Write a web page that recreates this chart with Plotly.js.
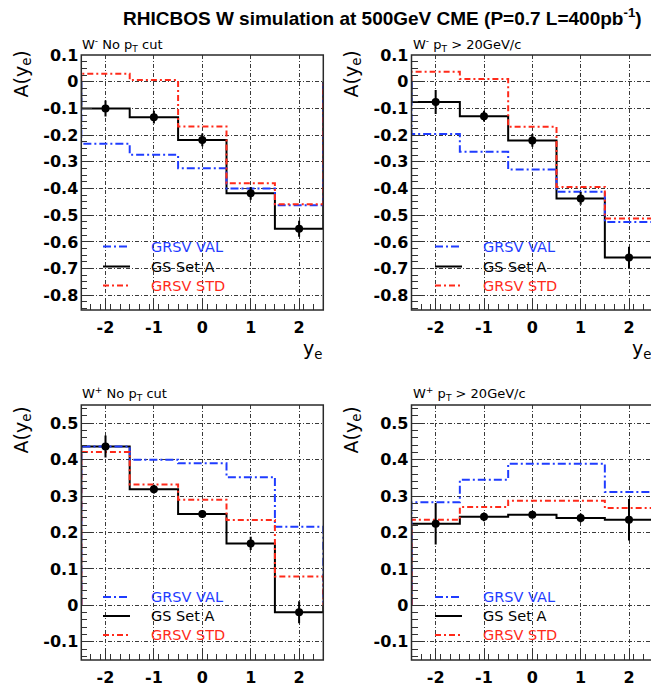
<!DOCTYPE html>
<html>
<head>
<meta charset="utf-8">
<script src="https://cdn.plot.ly/plotly-3.0.1.min.js"></script>
<style>
  html, body { margin: 0; padding: 0; background: #fff; }
  #chart { width: 651px; height: 687px; }
</style>
</head>
<body>
<div id="chart"></div>
<script>
// Electron rapidity bins
const binCenters = [-2, -1, 0, 1, 2];
const binEdges = [-2.5, -1.5, -0.5, 0.5, 1.5, 2.5];

// W- , no pT cut
const wmNoCutGS  = [-0.100, -0.133, -0.218, -0.418, -0.551];
const wmNoCutErr = [0.030, 0.024, 0.024, 0.024, 0.030];
const wmNoCutVAL = [-0.232, -0.274, -0.324, -0.400, -0.463];
const wmNoCutSTD = [0.030, 0.006, -0.168, -0.380, -0.459];

// W- , pT > 20 GeV/c
const wmPtGS  = [-0.076, -0.129, -0.220, -0.437, -0.658];
const wmPtErr = [0.045, 0.020, 0.024, 0.024, 0.040];
const wmPtVAL = [-0.196, -0.262, -0.329, -0.412, -0.525];
const wmPtSTD = [0.037, 0.010, -0.169, -0.394, -0.512];

// W+ , no pT cut
const wpNoCutGS  = [0.436, 0.319, 0.251, 0.170, -0.019];
const wpNoCutErr = [0.030, 0.012, 0.010, 0.018, 0.030];
const wpNoCutVAL = [0.436, 0.400, 0.390, 0.352, 0.216];
const wpNoCutSTD = [0.421, 0.332, 0.290, 0.234, 0.079];

// W+ , pT > 20 GeV/c
const wpPtGS  = [0.224, 0.243, 0.249, 0.240, 0.235];
const wpPtErr = [0.057, 0.012, 0.010, 0.012, 0.057];
const wpPtVAL = [0.283, 0.345, 0.389, 0.389, 0.311];
const wpPtSTD = [0.235, 0.270, 0.287, 0.287, 0.267];

// Tick labels
const xTickVals = [-2, -1, 0, 1, 2];
const xTickText = ['-2', '-1', '0', '1', '2'];
const yTickValsWm = [0.1, 0, -0.1, -0.2, -0.3, -0.4, -0.5, -0.6, -0.7, -0.8];
const yTickTextWm = ['0.1', '0', '-0.1', '-0.2', '-0.3', '-0.4', '-0.5', '-0.6', '-0.7', '-0.8'];
const yTickValsWp = [-0.1, 0, 0.1, 0.2, 0.3, 0.4, 0.5];
const yTickTextWp = ['-0.1', '0', '0.1', '0.2', '0.3', '0.4', '0.5'];

// Series names and panel captions
const seriesNames = ['GRSV VAL', 'GS Set A', 'GRSV STD'];
const panelTitles = [
  'W<sup>-</sup> No p<sub>T</sub> cut',
  'W<sup>-</sup> p<sub>T</sub> &gt; 20GeV/c',
  'W<sup>+</sup> No p<sub>T</sub> cut',
  'W<sup>+</sup> p<sub>T</sub> &gt; 20GeV/c'
];
const mainTitle = 'RHICBOS W simulation at 500GeV CME (P=0.7 L=400pb<sup>-1</sup>)';
const yTitle = 'A(y<sub>e</sub>)';
const xTitle = 'y<sub>e</sub>';

const W = 651, H = 687;
const px = v => v / W;
const py = v => 1 - v / H;

const BLUE = '#1f3cff';
const RED = '#ff2a1a';
const BLACK = '#000000';
const seriesColors = [BLUE, BLACK, RED];
const seriesDash = ['8px,3px,2px,3px', 'solid', '6px,3px,2px,3px'];

// Histogram outline, dropping to zero at both ends
function stepXY(values) {
  const x = [binEdges[0]], y = [0];
  values.forEach((v, i) => { x.push(binEdges[i], binEdges[i + 1]); y.push(v, v); });
  x.push(binEdges[binEdges.length - 1]); y.push(0);
  return { x, y };
}

const panels = [
  { xa: 'x',  ya: 'y',  gs: wmNoCutGS, err: wmNoCutErr, val: wmNoCutVAL, std: wmNoCutSTD,
    left: 80, top: 45, key: { x0: 103, x1: 130, tx: 149, rows: [246.5, 266.5, 285.5] } },
  { xa: 'x2', ya: 'y2', gs: wmPtGS,    err: wmPtErr,    val: wmPtVAL,    std: wmPtSTD,
    left: 411, top: 45, key: { x0: 435, x1: 462, tx: 481, rows: [246.5, 266.5, 285.5] } },
  { xa: 'x3', ya: 'y3', gs: wpNoCutGS, err: wpNoCutErr, val: wpNoCutVAL, std: wpNoCutSTD,
    left: 80, top: 394, key: { x0: 103, x1: 130, tx: 149, rows: [597, 616, 635] } },
  { xa: 'x4', ya: 'y4', gs: wpPtGS,    err: wpPtErr,    val: wpPtVAL,    std: wpPtSTD,
    left: 411, top: 394, key: { x0: 435, x1: 462, tx: 481, rows: [597, 616, 635] } }
];

const traces = [];
panels.forEach(p => {
  const lines = [stepXY(p.gs), stepXY(p.val), stepXY(p.std)];
  const order = [1, 0, 2]; // GS Set A underneath, then VAL, then STD on top
  order.forEach((s, k) => {
    const ln = lines[k];
    traces.push({
      type: 'scatter', mode: 'lines', x: ln.x, y: ln.y, xaxis: p.xa, yaxis: p.ya,
      name: seriesNames[s], showlegend: false,
      line: { color: seriesColors[s], width: 2, dash: seriesDash[s] }, hoverinfo: 'skip'
    });
  });
  traces.push({
    type: 'scatter', mode: 'markers', x: binCenters, y: p.gs, xaxis: p.xa, yaxis: p.ya,
    showlegend: false,
    marker: { color: BLACK, size: 8 },
    error_y: { type: 'data', array: p.err, visible: true, color: BLACK, thickness: 2, width: 0 },
    hoverinfo: 'skip'
  });
});

const tickFont = { family: 'DejaVu Sans', size: 16, weight: 'bold', color: '#000' };
const gridStyle = { showgrid: true, gridcolor: '#3a3a3a', gridwidth: 1, griddash: '4px,2px,1px,2px' };

function xAxis(domain, range, anchor) {
  return Object.assign({
    domain, range, anchor, zeroline: false, showline: false, fixedrange: true,
    tickmode: 'array', tickvals: xTickVals, ticktext: xTickText,
    ticks: 'inside', ticklen: 11, tickwidth: 1, tickcolor: '#333',
    minor: { ticks: 'inside', ticklen: 6, tickwidth: 1, tickcolor: '#333', tickmode: 'linear', tick0: -2.5, dtick: 0.2, showgrid: false },
    tickfont: tickFont, ticklabelstandoff: 6
  }, gridStyle);
}
function yAxis(domain, range, anchor, vals, text, minorStep) {
  return Object.assign({
    domain, range, anchor, zeroline: false, showline: false, fixedrange: true,
    tickmode: 'array', tickvals: vals, ticktext: text,
    ticks: 'inside', ticklen: 11, tickwidth: 1, tickcolor: '#333',
    minor: { ticks: 'inside', ticklen: 6, tickwidth: 1, tickcolor: '#333', tickmode: 'linear', tick0: 0, dtick: minorStep, showgrid: false },
    tickfont: tickFont, ticklabelstandoff: 2
  }, gridStyle);
}

const colL = [px(81.3), px(323.3)];
const colR = [px(411.5), 1];
const rowT = [py(310), py(55)];
const rowB = [py(660), py(405)];
const xRangeL = [-2.5, 2.5];
const xRangeR = [-2.5, 2.455];
const yRangeWm = [-0.855, 0.1];
const yRangeWp = [-0.15, 0.55];

const frameLine = { color: '#2a2a2a', width: 1.5 };
const shapes = [
  { type: 'rect', xref: 'x domain', yref: 'y domain', x0: 0, x1: 1, y0: 0, y1: 1, line: frameLine, layer: 'above' },
  { type: 'rect', xref: 'x2 domain', yref: 'y2 domain', x0: 0, x1: 1.0088, y0: 0, y1: 1, line: frameLine, layer: 'above' },
  { type: 'rect', xref: 'x3 domain', yref: 'y3 domain', x0: 0, x1: 1, y0: 0, y1: 1, line: frameLine, layer: 'above' },
  { type: 'rect', xref: 'x4 domain', yref: 'y4 domain', x0: 0, x1: 1.0088, y0: 0, y1: 1, line: frameLine, layer: 'above' }
];

const capFont = { family: 'DejaVu Sans', size: 13, color: '#000' };
const yTitleFont = { family: 'DejaVu Sans', size: 19, color: '#000' };
const keyFont = { family: 'DejaVu Sans', size: 14.5 };
const annotations = [
  { text: mainTitle, xref: 'paper', yref: 'paper', x: px(382), y: py(17), xanchor: 'center', yanchor: 'middle',
    showarrow: false, font: { family: 'Liberation Sans', size: 19, weight: 'bold', color: '#000' } },
  { text: yTitle, xref: 'paper', yref: 'paper', x: px(22), y: py(49), xanchor: 'center', yanchor: 'top', textangle: -90, showarrow: false, font: yTitleFont },
  { text: yTitle, xref: 'paper', yref: 'paper', x: px(352), y: py(49), xanchor: 'center', yanchor: 'top', textangle: -90, showarrow: false, font: yTitleFont },
  { text: yTitle, xref: 'paper', yref: 'paper', x: px(22), y: py(405), xanchor: 'center', yanchor: 'top', textangle: -90, showarrow: false, font: yTitleFont },
  { text: yTitle, xref: 'paper', yref: 'paper', x: px(352), y: py(405), xanchor: 'center', yanchor: 'top', textangle: -90, showarrow: false, font: yTitleFont },
  { text: xTitle, xref: 'paper', yref: 'paper', x: px(324), y: py(349), xanchor: 'right', yanchor: 'middle', showarrow: false, font: yTitleFont },
  { text: xTitle, xref: 'paper', yref: 'paper', x: px(653), y: py(349), xanchor: 'right', yanchor: 'middle', showarrow: false, font: yTitleFont }
];

// Panel captions and per-panel keys (VAL, GS Set A, STD)
panels.forEach((p, i) => {
  annotations.push({ text: panelTitles[i], xref: 'paper', yref: 'paper', x: px(p.left), y: py(p.top),
    xanchor: 'left', yanchor: 'middle', showarrow: false, font: capFont });
  seriesNames.forEach((name, s) => {
    const yy = py(p.key.rows[s]);
    shapes.push({ type: 'line', xref: 'paper', yref: 'paper', x0: px(p.key.x0), x1: px(p.key.x1), y0: yy, y1: yy,
      line: { color: seriesColors[s], width: 2, dash: seriesDash[s] }, layer: 'above' });
    annotations.push({ text: name, xref: 'paper', yref: 'paper', x: px(p.key.tx), y: yy,
      xanchor: 'left', yanchor: 'middle', showarrow: false,
      font: Object.assign({ color: seriesColors[s] }, keyFont) });
  });
});

const layout = {
  width: W, height: H,
  margin: { l: 0, r: 0, t: 0, b: 0, pad: 0 },
  paper_bgcolor: '#fff', plot_bgcolor: 'rgba(0,0,0,0)',
  showlegend: false,
  xaxis:  xAxis(colL, xRangeL, 'y'),
  yaxis:  yAxis(rowT, yRangeWm, 'x', yTickValsWm, yTickTextWm, 0.025),
  xaxis2: xAxis(colR, xRangeR, 'y2'),
  yaxis2: yAxis(rowT, yRangeWm, 'x2', yTickValsWm, yTickTextWm, 0.025),
  xaxis3: xAxis(colL, xRangeL, 'y3'),
  yaxis3: yAxis(rowB, yRangeWp, 'x3', yTickValsWp, yTickTextWp, 0.02),
  xaxis4: xAxis(colR, xRangeR, 'y4'),
  yaxis4: yAxis(rowB, yRangeWp, 'x4', yTickValsWp, yTickTextWp, 0.02),
  shapes, annotations
};

Plotly.newPlot('chart', traces, layout, { staticPlot: true, displayModeBar: false });
</script>
</body>
</html>
